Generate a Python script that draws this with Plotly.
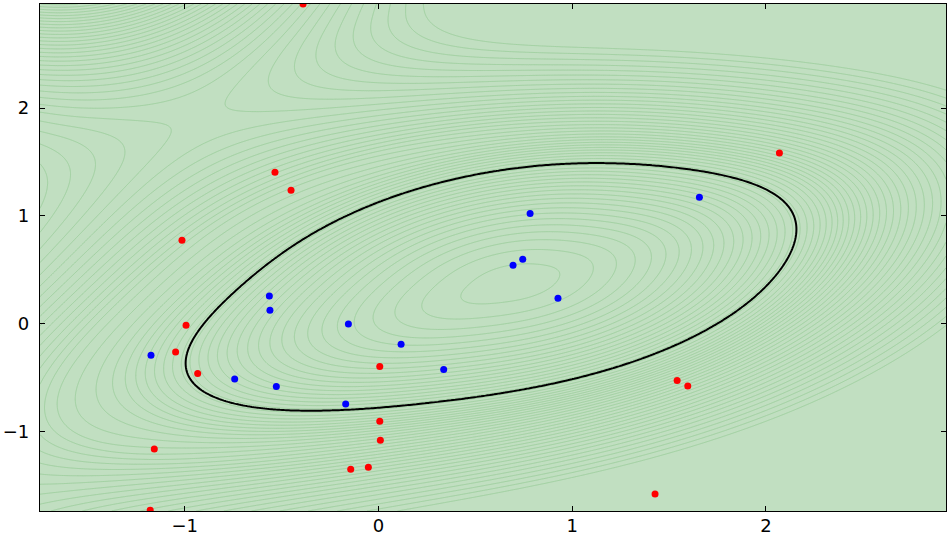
import numpy as np
import plotly.graph_objects as go

# ---------------- data ----------------
red_x = [-0.389, -0.534, -0.451, -1.014, -0.993, -1.047, -0.933, -1.157, -1.178,
         0.007, 0.007, 0.010, -0.143, -0.052, 1.542, 1.597, 1.428, 2.070]
red_y = [2.966, 1.405, 1.238, 0.774, -0.016, -0.264, -0.464, -1.165, -1.734,
         -0.399, -0.907, -1.084, -1.353, -1.335, -0.529, -0.580, -1.583, 1.582]
blue_x = [-1.174, -0.563, -0.560, -0.742, -0.527, -0.155, 0.117, 0.337, -0.169,
          0.927, 0.783, 0.745, 0.695, 1.657]
blue_y = [-0.294, 0.256, 0.124, -0.515, -0.585, -0.004, -0.192, -0.427, -0.747,
          0.235, 1.022, 0.597, 0.541, 1.173]

# decision boundary (black curve) sample points
boundary_x = [-0.978, -0.968, -0.937, -0.854, -0.751, -0.627, -0.302, 0.044, 0.385,
              0.731, 1.077, 1.351, 1.630, 1.851, 2.058, 2.162, 2.172, 2.146, 2.074,
              1.970, 1.800, 1.630, 1.351, 1.077, 0.731, 0.385, 0.044, -0.302,
              -0.560, -0.715, -0.869, -0.926, -0.963]
boundary_y = [-0.480, -0.341, -0.155, 0.059, 0.309, 0.495, 0.885, 1.145, 1.331,
              1.452, 1.480, 1.480, 1.452, 1.331, 1.118, 0.894, 0.839, 0.653, 0.495,
              0.309, 0.059, -0.118, -0.304, -0.498, -0.638, -0.712, -0.759, -0.787,
              -0.787, -0.759, -0.703, -0.657, -0.582]

x_ticks = [-1, 0, 1, 2]
y_ticks = [-1, 0, 1, 2]
x_range = [-1.747, 2.93]
y_range = [-1.74, 2.966]

# ---------------- background field model ----------------
center = np.array([0.700, 0.374])   # minimum of the main basin
aspect = 0.556                      # y-scale of the isotropic metric
# level profile of the main basin: slope of the level count versus scaled radius
prof_s = [0.0, 1.0, 1.15, 1.4, 1.8, 2.1, 2.5, 3.0, 20.0]
prof_slope = [0.0, 38.0, 52.0, 36.0, 24.0, 16.0, 6.0, 0.0, 0.0]
top_level = 51.0
# pits that pull the field down toward the outer corners
pit_cx = [-1.644, -2.367]
pit_cy = [5.325, -2.941]
pit_depth = [400.0, 35.0]
pit_len = [0.60, 0.775]

bx = np.array(boundary_x); by = np.array(boundary_y)
bu = bx - center[0]; bv = by - center[1]
# conic fit -> whitening so the boundary becomes nearly a circle
Dm = np.stack([bu ** 2, bu * bv, bv ** 2, bu, bv], axis=1)
w, *_ = np.linalg.lstsq(Dm, np.ones_like(bu), rcond=None)
A = np.array([[w[0], w[1] / 2], [w[1] / 2, w[2]]])
ev, evec = np.linalg.eigh(A)
Wt = evec @ np.diag(np.sqrt(np.abs(ev))) @ evec.T

K = 4
def fourier_design(phi):
    cols = [np.ones_like(phi)]
    for k in range(1, K + 1):
        cols += [np.cos(k * phi), np.sin(k * phi)]
    return np.stack(cols, axis=-1)

pb = Wt @ np.stack([bu, bv])
coef, *_ = np.linalg.lstsq(fourier_design(np.arctan2(pb[1], pb[0])), np.hypot(pb[0], pb[1]), rcond=None)

nx, ny = 420, 320
gx = np.linspace(x_range[0], x_range[1], nx)
gy = np.linspace(y_range[0], y_range[1], ny)
X, Y = np.meshgrid(gx, gy)
P0 = Wt[0, 0] * (X - center[0]) + Wt[0, 1] * (Y - center[1])
P1 = Wt[1, 0] * (X - center[0]) + Wt[1, 1] * (Y - center[1])
Rb = fourier_design(np.arctan2(P1, P0)) @ coef
q = (P0 ** 2 + P1 ** 2) / Rb ** 2
s = np.sqrt(q)

s_fine = np.linspace(0.0, 20.0, 20001)
sl = np.interp(s_fine, prof_s, prof_slope)
G_fine = np.concatenate([[0.0], np.cumsum(0.5 * (sl[1:] + sl[:-1]) * np.diff(s_fine))])
Z = np.interp(s, s_fine, G_fine)

t = np.clip(q - 1.0, 0.0, 1.0)
mask = t * t * (3 - 2 * t)
for cx, cy, dep, lam in zip(pit_cx, pit_cy, pit_depth, pit_len):
    d = np.hypot(X - cx, (Y - cy) * aspect)
    Z = Z - mask * dep * np.exp(-d / lam)

fill_color = "rgb(193,223,193)"
line_color = "rgb(155,205,155)"

fig = go.Figure()
fig.add_trace(go.Contour(
    x=gx, y=gy, z=Z, autocontour=False,
    contours=dict(start=0.5, end=top_level, size=1.0, coloring="none"),
    line=dict(color=line_color, width=0.9, smoothing=0),
    showscale=False, hoverinfo="skip"))
fig.add_trace(go.Contour(
    x=gx, y=gy, z=q, autocontour=False,
    contours=dict(start=1.0, end=1.0, size=1.0, coloring="none"),
    line=dict(color="black", width=2, smoothing=0),
    showscale=False, hoverinfo="skip"))
fig.add_trace(go.Scatter(x=red_x, y=red_y, mode="markers",
                         marker=dict(color="#ff0000", size=7, line=dict(width=0))))
fig.add_trace(go.Scatter(x=blue_x, y=blue_y, mode="markers",
                         marker=dict(color="#0000ff", size=7, line=dict(width=0))))

axis_style = dict(ticks="inside", ticklen=5, tickwidth=1, tickcolor="black",
                  showline=True, linecolor="black", linewidth=1.3, mirror="ticks",
                  showgrid=False, zeroline=False, automargin=False,
                  tickfont=dict(family="DejaVu Sans", size=18, color="black"))
fig.update_xaxes(range=x_range, tickvals=x_ticks, ticklabelstandoff=-2, **axis_style)
fig.update_yaxes(range=y_range, tickvals=y_ticks, ticklabelstandoff=6, **axis_style)
fig.update_layout(width=947, height=536, margin=dict(l=40, r=1, t=4, b=25),
                  plot_bgcolor=fill_color, paper_bgcolor="white", showlegend=False)
fig.write_html("out.html", config={"displayModeBar": False},
               post_script="document.body.style.margin='0';document.body.style.overflow='hidden';")
